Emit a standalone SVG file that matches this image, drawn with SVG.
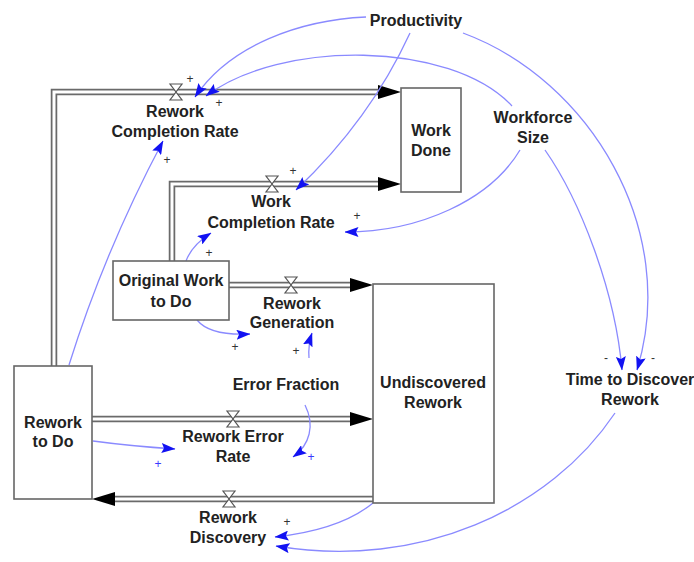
<svg xmlns="http://www.w3.org/2000/svg" width="694" height="562" viewBox="0 0 694 562">
  <style>
    text { font-family: "Liberation Sans", Arial, sans-serif; font-weight: bold; font-size: 16px; fill: #222; text-anchor: middle; }
    .stock { fill: #fff; stroke: #666; stroke-width: 1.6; }
    .pipe-out { fill: none; stroke: #6a6a6a; stroke-width: 6.5; stroke-linejoin: miter; }
    .pipe-in { fill: none; stroke: #fff; stroke-width: 3; stroke-linejoin: miter; }
    .head { fill: #000; }
    .valve { fill: #fff; stroke: #555; stroke-width: 1.2; }
    .link { fill: none; stroke: #8a8aff; stroke-width: 1.3; marker-end: url(#ah); }
    .sign { font-size: 12px; font-weight: normal; fill: #333; }
    .sign-b { font-size: 12px; font-weight: normal; fill: #3a3aff; }
  </style>
  <defs>
    <marker id="ah" viewBox="0 0 14 10" refX="13.5" refY="5" markerWidth="14" markerHeight="10" orient="auto" markerUnits="userSpaceOnUse">
      <path d="M0,0 L14,5 L0,10 L2.5,5 Z" fill="#1212f2"/>
    </marker>
  </defs>

  <!-- material flow pipes and causal links -->
  <g id="connectors">
    <!-- pipes -->
    <path class="pipe-out" d="M54,366 V92 H380"/>
    <path class="pipe-in" d="M54,366 V92 H380"/>
    <path class="pipe-out" d="M172,261 V184 H380"/>
    <path class="pipe-in" d="M172,261 V184 H380"/>
    <path class="pipe-out" d="M229,285 H352"/>
    <path class="pipe-in" d="M229,285 H352"/>
    <path class="pipe-out" d="M92,419 H352"/>
    <path class="pipe-in" d="M92,419 H352"/>
    <path class="pipe-out" d="M373,499 H113"/>
    <path class="pipe-in" d="M373,499 H113"/>
    <!-- pipe heads -->
    <polygon class="head" points="401,92 378,85 378,99"/>
    <polygon class="head" points="401,184 378,177 378,191"/>
    <polygon class="head" points="373,285 350,278 350,292"/>
    <polygon class="head" points="373,419 350,412 350,426"/>
    <polygon class="head" points="92,499 115,492 115,506"/>

    <!-- causal links -->
    <path class="link" d="M366,17 C300,20 230,45 195,97"/>
    <path class="link" d="M512,106 C450,40 280,40 206,96"/>
    <path class="link" d="M410,33 Q370,120 296,190"/>
    <path class="link" d="M463,33 C590,80 680,230 637,370"/>
    <path class="link" d="M545,150 C580,200 615,290 622,370"/>
    <path class="link" d="M520,150 C490,200 420,232 345,232"/>
    <path class="link" d="M186,261 Q192,245 211,233"/>
    <path class="link" d="M197,320 Q210,336 250,334"/>
    <path class="link" d="M309,358 Q308,345 312,333"/>
    <path class="link" d="M305,405 C315,425 310,445 293,457"/>
    <path class="link" d="M93,441 Q130,446 175,449"/>
    <path class="link" d="M69,365 Q105,250 163,141"/>
    <path class="link" d="M373,503 Q340,530 275,537"/>
    <path class="link" d="M615,413 C550,510 420,570 276,546"/>
  </g>

  <!-- stocks -->
  <g id="work-done">
    <rect class="stock" x="401" y="88" width="60" height="104"/>
    <text x="431" y="136">Work</text>
    <text x="431" y="156">Done</text>
  </g>
  <g id="undiscovered-rework">
    <rect class="stock" x="373" y="284" width="121" height="219"/>
    <text x="433" y="388">Undiscovered</text>
    <text x="433" y="408">Rework</text>
  </g>
  <g id="rework-to-do">
    <rect class="stock" x="14" y="366" width="78" height="133"/>
    <text x="53" y="428">Rework</text>
    <text x="53" y="447">to Do</text>
  </g>
  <g id="original-work-to-do">
    <rect class="stock" x="113" y="261" width="116" height="59"/>
    <text x="171" y="286">Original Work</text>
    <text x="171" y="307">to Do</text>
  </g>

  <!-- flows -->
  <g id="rework-completion-rate">
    <polygon class="valve" points="170,84 182,84 176,92 182,100 170,100 176,92"/>
    <text x="175" y="117">Rework</text>
    <text x="175" y="137">Completion Rate</text>
    <text class="sign" x="190" y="83">+</text>
    <text class="sign" x="219" y="107">+</text>
    <text class="sign" x="167" y="164">+</text>
  </g>
  <g id="work-completion-rate">
    <polygon class="valve" points="266,176 278,176 272,184 278,192 266,192 272,184"/>
    <text x="271" y="207">Work</text>
    <text x="271" y="228">Completion Rate</text>
    <text class="sign" x="293" y="175">+</text>
    <text class="sign" x="357" y="220">+</text>
    <text class="sign" x="209" y="257">+</text>
  </g>
  <g id="rework-generation">
    <polygon class="valve" points="285,277 297,277 291,285 297,293 285,293 291,285"/>
    <text x="292" y="309">Rework</text>
    <text x="292" y="328">Generation</text>
    <text class="sign" x="235" y="351">+</text>
    <text class="sign" x="296" y="355">+</text>
  </g>
  <g id="rework-error-rate">
    <polygon class="valve" points="227,411 239,411 233,419 239,427 227,427 233,419"/>
    <text x="233" y="442">Rework Error</text>
    <text x="233" y="462">Rate</text>
    <text class="sign-b" x="158" y="468">+</text>
    <text class="sign-b" x="311" y="461">+</text>
  </g>
  <g id="rework-discovery">
    <polygon class="valve" points="223,491 235,491 229,499 235,507 223,507 229,499"/>
    <text x="228" y="523">Rework</text>
    <text x="228" y="543">Discovery</text>
    <text class="sign" x="287" y="526">+</text>
  </g>

  <!-- auxiliaries -->
  <g id="productivity">
    <text x="416" y="26">Productivity</text>
  </g>
  <g id="workforce-size">
    <text x="533" y="123">Workforce</text>
    <text x="533" y="143">Size</text>
  </g>
  <g id="error-fraction">
    <text x="286" y="390">Error Fraction</text>
  </g>
  <g id="time-to-discover-rework">
    <text x="630" y="385">Time to Discover</text>
    <text x="630" y="405">Rework</text>
    <text class="sign" x="606" y="362">-</text>
    <text class="sign" x="653" y="362">-</text>
  </g>
</svg>
